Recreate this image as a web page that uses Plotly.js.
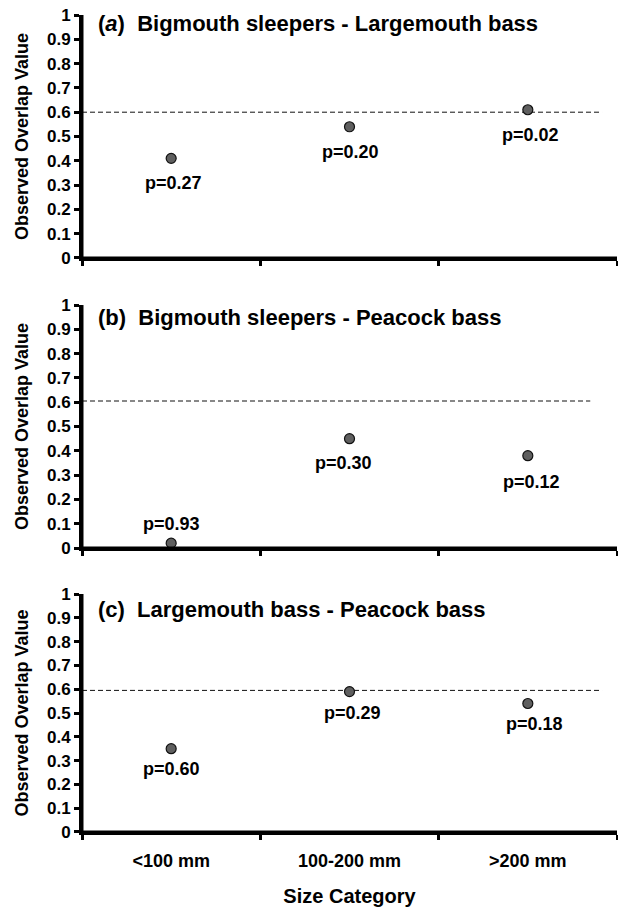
<!DOCTYPE html>
<html>
<head>
<meta charset="utf-8">
<script src="https://cdn.plot.ly/plotly-3.0.1.min.js"></script>
<style>html,body{margin:0;padding:0;background:#fff}#chart{width:618px;height:907px}</style>
</head>
<body>
<div id="chart"></div>
<script>
// ---- data ----
var categories = ['<100 mm', '100-200 mm', '>200 mm'];
var panelTitles = ['(<i>a</i>)  Bigmouth sleepers - Largemouth bass',
                   '(b)  Bigmouth sleepers - Peacock bass',
                   '(c)  Largemouth bass - Peacock bass'];
var overlapA = [0.41, 0.54, 0.61];
var overlapB = [0.02, 0.45, 0.38];
var overlapC = [0.35, 0.59, 0.54];
var pLabelsA = ['p=0.27', 'p=0.20', 'p=0.02'];
var pLabelsB = ['p=0.93', 'p=0.30', 'p=0.12'];
var pLabelsC = ['p=0.60', 'p=0.29', 'p=0.18'];
var nullOverlap = [0.60, 0.605, 0.595];
var yTickVals = [0, 0.1, 0.2, 0.3, 0.4, 0.5, 0.6, 0.7, 0.8, 0.9, 1];
var yTickText = ['0', '0.1', '0.2', '0.3', '0.4', '0.5', '0.6', '0.7', '0.8', '0.9', '1'];

// ---- styling / layout ----
var FONT = "'Liberation Sans', Arial, Helvetica, sans-serif";
var series = [overlapA, overlapB, overlapC];
var labels = [pLabelsA, pLabelsB, pLabelsC];
var labelShift = [[-25, -25, -25], [19, -24, -26], [-20, -21, -21]];
var labelXShift = [[2, 1, 3], [0, -6, 4], [0, 3, 7]];
var lineEnd = [2.416, 2.35, 2.416];
var titleY = [0.963, 0.947, 0.937];
var domains = [[0.7026, 1.0], [0.3476, 0.645], [0.0, 0.2913]];

var traces = [];
var annotations = [];
var shapes = [];
var layout = {
  width: 618, height: 907,
  margin: {l: 82, r: 1, t: 15, b: 75},
  paper_bgcolor: '#fff', plot_bgcolor: '#fff',
  showlegend: false,
  font: {family: FONT, color: '#000'}
};

for (var i = 0; i < 3; i++) {
  var xa = i === 0 ? 'x' : 'x' + (i + 1);
  var ya = i === 0 ? 'y' : 'y' + (i + 1);
  var xk = i === 0 ? 'xaxis' : 'xaxis' + (i + 1);
  var yk = i === 0 ? 'yaxis' : 'yaxis' + (i + 1);
  traces.push({
    type: 'scatter', mode: 'markers', x: categories, y: series[i],
    xaxis: xa, yaxis: ya, cliponaxis: false, hoverinfo: 'skip',
    marker: {size: 10, color: '#5f5f5f', line: {color: '#111', width: 1.2}}
  });
  layout[xk] = {
    type: 'category', categoryorder: 'array', categoryarray: categories,
    range: [-0.5, 2.5], anchor: ya, domain: [0, 1],
    showline: true, linecolor: '#000', linewidth: 3,
    ticks: 'outside', tickson: 'boundaries', ticklen: 5, tickwidth: 3, tickcolor: '#000',
    showgrid: false, zeroline: false,
    showticklabels: i === 2,
    tickfont: {family: FONT, size: 18, weight: 'bold', color: '#000'},
    ticklabelstandoff: 10
  };
  if (i === 2) {
    layout[xk].title = {text: 'Size Category', font: {family: FONT, size: 20, weight: 'bold', color: '#000'}, standoff: 22};
  }
  layout[yk] = {
    range: [0, 1], domain: domains[i], anchor: xa,
    tickvals: yTickVals, ticktext: yTickText,
    showline: true, linecolor: '#000', linewidth: 3,
    ticks: 'outside', ticklen: 5, tickwidth: 3, tickcolor: '#000',
    showgrid: false, zeroline: false,
    tickfont: {family: FONT, size: 17, weight: 'bold', color: '#000'},
    title: {text: 'Observed Overlap Value', font: {family: FONT, size: 18, weight: 'bold', color: '#000'}, standoff: 14}
  };
  // reinforced axis lines
  shapes.push({
    type: 'line', xref: xa + ' domain', yref: ya + ' domain', x0: 0, x1: 0, y0: 0, y1: 1,
    line: {color: '#000', width: 3}, layer: 'above'
  });
  shapes.push({
    type: 'line', xref: xa + ' domain', yref: ya + ' domain', x0: 0, x1: 1, y0: 0, y1: 0,
    line: {color: '#000', width: 3}, layer: 'above'
  });
  shapes.push({
    type: 'line', xref: xa, yref: ya, x0: -0.5, x1: lineEnd[i],
    y0: nullOverlap[i], y1: nullOverlap[i],
    line: {color: '#111', width: 1, dash: '5px,3px'}, layer: 'below'
  });
  annotations.push({
    xref: xa + ' domain', yref: ya + ' domain', x: 0.026, y: titleY[i],
    xanchor: 'left', yanchor: 'middle', showarrow: false,
    text: '<b>' + panelTitles[i] + '</b>',
    font: {family: FONT, size: 22, color: '#000'}
  });
  for (var j = 0; j < 3; j++) {
    annotations.push({
      xref: xa, yref: ya, x: categories[j], y: series[i][j],
      showarrow: false, yshift: labelShift[i][j], xshift: labelXShift[i][j],
      text: '<b>' + labels[i][j] + '</b>',
      font: {family: FONT, size: 18, color: '#000'}
    });
  }
}
layout.annotations = annotations;
layout.shapes = shapes;

Plotly.newPlot('chart', traces, layout, {displayModeBar: false, staticPlot: true});
</script>
</body>
</html>
